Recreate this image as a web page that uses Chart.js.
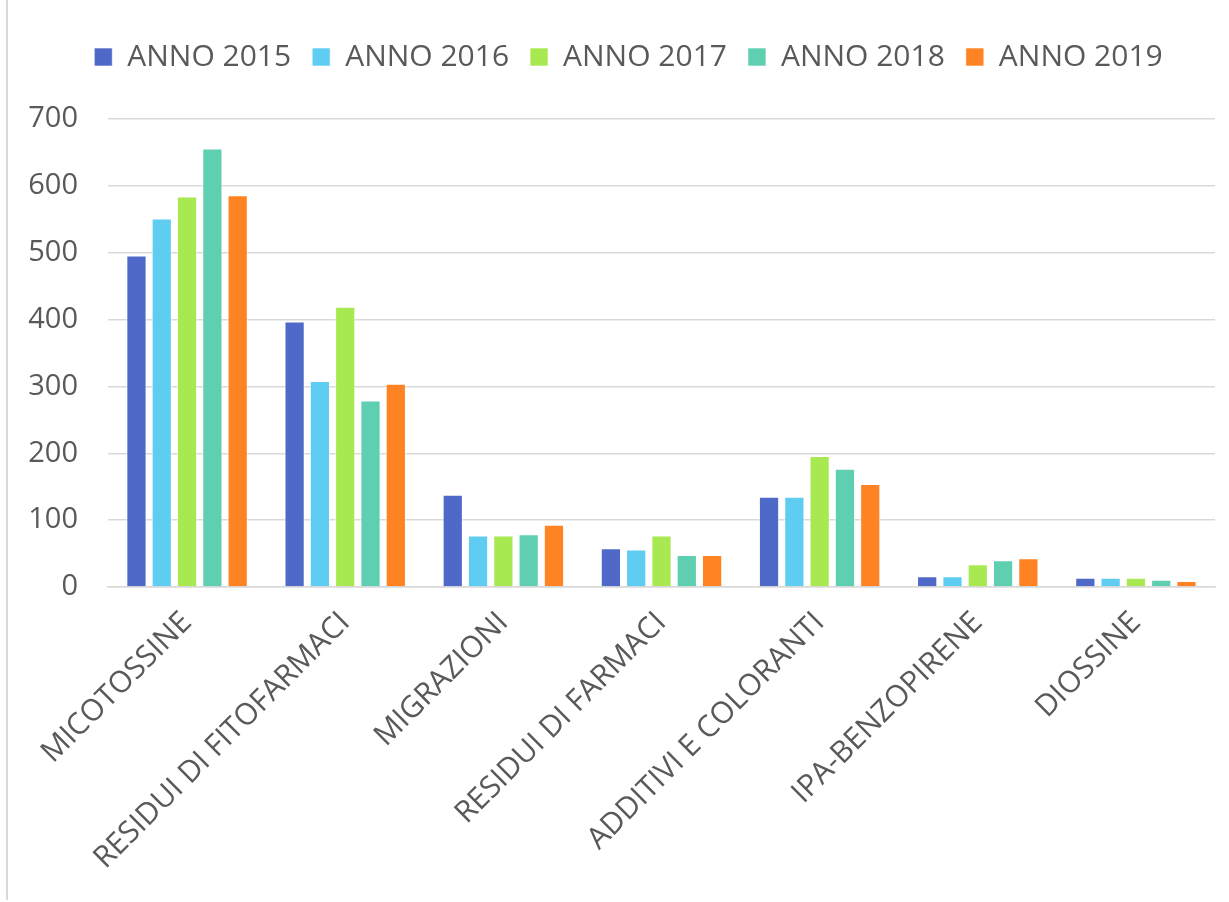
<!DOCTYPE html>
<html>
<head>
<meta charset="utf-8">
<script src="https://cdn.jsdelivr.net/npm/chart.js@4"></script>
<style>
  html, body { margin: 0; padding: 0; background: #fff; }
  #wrap {
    position: absolute; left: 6px; top: 0; width: 1222px; height: 900px;
    border-left: 2px solid #d9d9d9; box-sizing: border-box;
  }
  canvas { display: block; }
</style>
</head>
<body>
<div id="wrap"><canvas id="chart"></canvas></div>
<script>
// categorie e valori
const categories = [
  "MICOTOSSINE",
  "RESIDUI DI FITOFARMACI",
  "MIGRAZIONI",
  "RESIDUI DI FARMACI",
  "ADDITIVI E COLORANTI",
  "IPA-BENZOPIRENE",
  "DIOSSINE"
];

const anno2015 = [496, 397, 138, 58, 135, 16, 14];
const anno2016 = [551, 308, 77, 56, 135, 16, 14];
const anno2017 = [584, 419, 77, 77, 196, 34, 14];
const anno2018 = [656, 279, 79, 48, 177, 40, 11];
const anno2019 = [586, 304, 93, 48, 154, 43, 9];

const yTicks = [0, 100, 200, 300, 400, 500, 600, 700];

const FONT = "'Open Sans', 'Liberation Sans', sans-serif";
const TXT = "#595959";

function serie(label, data, color) {
  return {
    label: label,
    data: data,
    backgroundColor: color,
    borderColor: "rgba(255,255,255,0.6)",
    borderWidth: 1,
    barPercentage: 0.8,
    categoryPercentage: 0.8
  };
}

// spazio extra sotto la legenda + leggero spostamento a destra
const legendGap = {
  id: "legendGap",
  beforeInit(chart) {
    const fit = chart.legend.fit;
    chart.legend.fit = function () {
      fit.call(this);
      this.height += 37;
    };
  },
  afterLayout(chart) {
    chart.legend.left += 17;
    chart.legend.right += 17;
  }
};

new Chart(document.getElementById("chart"), {
  type: "bar",
  data: {
    labels: categories,
    datasets: [
      serie("ANNO 2015", anno2015, "#4f69c9"),
      serie("ANNO 2016", anno2016, "#5fcdf2"),
      serie("ANNO 2017", anno2017, "#a8e952"),
      serie("ANNO 2018", anno2018, "#5ecfb1"),
      serie("ANNO 2019", anno2019, "#ff8323")
    ]
  },
  plugins: [legendGap],
  options: {
    responsive: true,
    maintainAspectRatio: false,
    animation: false,
    layout: { padding: { left: 0, right: 13, top: 21, bottom: 10 } },
    plugins: {
      legend: {
        position: "top",
        labels: {
          color: TXT,
          font: { family: FONT, size: 30 },
          boxWidth: 18,
          boxHeight: 18,
          padding: 21
        }
      },
      tooltip: { enabled: false }
    },
    scales: {
      x: {
        grid: { display: false },
        border: { color: "#d9d9d9", width: 1.5 },
        afterFit: (scale) => {
          scale.height = 303;
          scale.paddingLeft = 0;
          scale.paddingRight = 0;
        },
        ticks: {
          color: TXT,
          font: { family: FONT, size: 30 },
          minRotation: 45,
          maxRotation: 45,
          autoSkip: false,
          padding: 10,
          labelOffset: 0
        }
      },
      y: {
        min: 0,
        max: 700,
        afterBuildTicks: (axis) => {
          axis.ticks = yTicks.map(v => ({ value: v }));
        },
        afterFit: (scale) => { scale.width = 100; },
        grid: { color: "#d9d9d9", lineWidth: 1.5, drawTicks: false },
        border: { display: false },
        ticks: {
          color: TXT,
          font: { family: FONT, size: 29 },
          padding: 30
        }
      }
    }
  }
});
</script>
</body>
</html>
